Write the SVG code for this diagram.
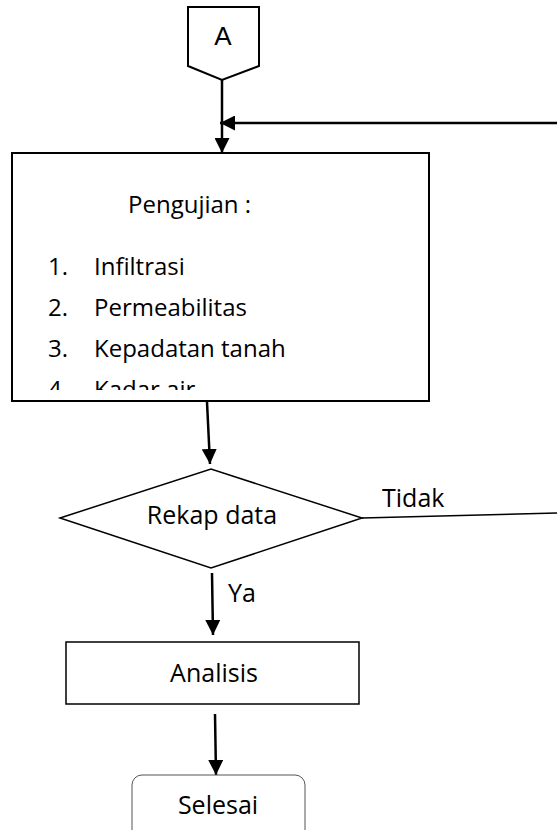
<svg xmlns="http://www.w3.org/2000/svg" width="557" height="830" viewBox="0 0 557 830">
<defs>
<style>
.t{font-family:"Open Sans","Noto Sans",sans-serif;font-size:24px;fill:#000}
.l{font-family:"Open Sans","Noto Sans",sans-serif;font-size:25px;fill:#000}
.a{font-family:"Liberation Sans",Arial,sans-serif;font-size:26px;fill:#000}
.n{fill:#fff;stroke:#000;stroke-width:2}
.c{fill:none;stroke:#000;stroke-width:2.5}
</style>
<marker id="ah" viewBox="0 0 10 10" refX="10" refY="5" markerWidth="15" markerHeight="15" markerUnits="userSpaceOnUse" orient="auto">
<path d="M0,0 L10,5 L0,10 Z" fill="#000"/>
</marker>
<clipPath id="clipBox"><rect x="12" y="153" width="417" height="237"/></clipPath>
</defs>
<rect width="557" height="830" fill="#fff"/>
<g id="connectors">
<line class="c" x1="222" y1="80" x2="222" y2="153" marker-end="url(#ah)"/>
<line class="c" x1="557" y1="123" x2="220" y2="123" marker-end="url(#ah)"/>
<line class="c" x1="207" y1="402" x2="210" y2="464" marker-end="url(#ah)"/>
<line fill="none" stroke="#000" stroke-width="1.5" x1="362" y1="518" x2="557" y2="513"/>
<line class="c" x1="212" y1="573" x2="213" y2="635" marker-end="url(#ah)"/>
<line class="c" x1="215" y1="714" x2="216" y2="775" marker-end="url(#ah)"/>
<text class="l" x="382" y="507">Tidak</text>
<text class="l" x="228" y="602">Ya</text>
</g>
<g id="nodeA">
<path class="n" d="M188,7 L259,7 L259,66 L222,80 L188,66 Z"/>
<text class="a" x="223" y="45" text-anchor="middle">A</text>
</g>
<g id="nodePengujian">
<rect class="n" x="12" y="153" width="417" height="248"/>
<g clip-path="url(#clipBox)">
<text class="t" x="128" y="213">Pengujian :</text>
<text class="t" x="48" y="275">1.</text><text class="t" x="94" y="275">Infiltrasi</text>
<text class="t" x="48" y="316">2.</text><text class="t" x="94" y="316">Permeabilitas</text>
<text class="t" x="48" y="357">3.</text><text class="t" x="94" y="357">Kepadatan tanah</text>
<text class="t" x="48" y="398">4.</text><text class="t" x="94" y="398">Kadar air</text>
</g>
</g>
<g id="nodeRekap">
<path fill="#fff" stroke="#000" stroke-width="1.5" d="M60,518 L211,469 L362,518 L211,568 Z"/>
<text class="l" x="212" y="524" text-anchor="middle">Rekap data</text>
</g>
<g id="nodeAnalisis">
<rect fill="#fff" stroke="#000" stroke-width="1.5" x="66" y="642" width="293" height="62"/>
<text class="l" x="214" y="682" text-anchor="middle">Analisis</text>
</g>
<g id="nodeSelesai">
<rect fill="#fff" stroke="#555" stroke-width="1" x="132" y="775" width="173" height="70" rx="10"/>
<text class="l" x="218" y="814" text-anchor="middle">Selesai</text>
</g>
</svg>
